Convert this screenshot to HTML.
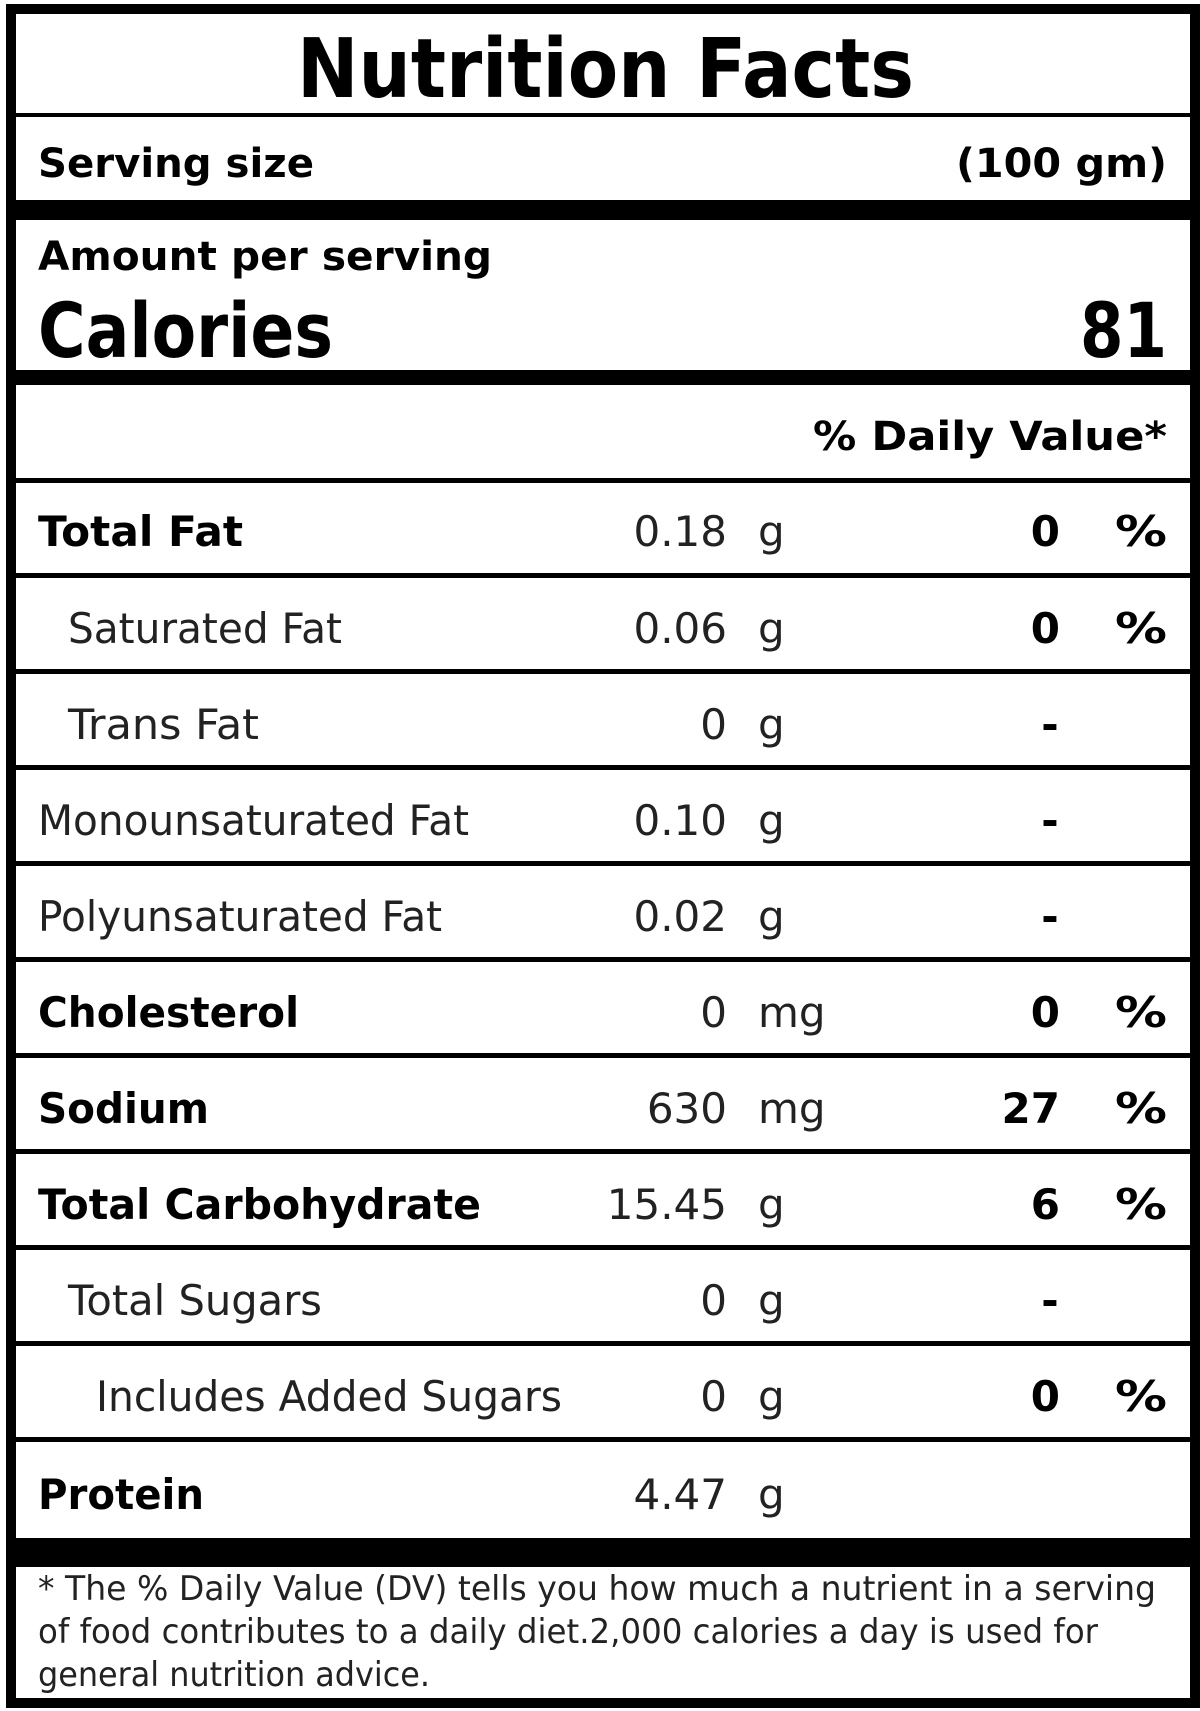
<!DOCTYPE html>
<html><head><meta charset="utf-8"><style>
html,body{margin:0;padding:0;background:#fff;}
svg{display:block;}
.b{font-family:"DejaVu Sans","Liberation Sans",sans-serif;font-weight:bold;fill:#000;}
.r{font-family:"DejaVu Sans","Liberation Sans",sans-serif;fill:#222;}
</style></head><body>
<svg width="1200" height="1711" viewBox="0 0 1200 1711" xmlns="http://www.w3.org/2000/svg">
<rect x="0" y="0" width="1200" height="1711" fill="#fff"/>
<!-- header -->
<text class="b" x="297" y="97" font-size="82" textLength="617" lengthAdjust="spacingAndGlyphs">Nutrition Facts</text>
<rect x="16" y="113" width="1174" height="4" fill="#000"/>
<text class="b" x="38" y="177" font-size="40" textLength="276" lengthAdjust="spacingAndGlyphs">Serving size</text>
<text class="b" x="956" y="177" font-size="40" textLength="211" lengthAdjust="spacingAndGlyphs">(100 gm)</text>
<rect x="16" y="200" width="1174" height="20" fill="#000"/>
<text class="b" x="38" y="270" font-size="40" textLength="454" lengthAdjust="spacingAndGlyphs">Amount per serving</text>
<text class="b" x="38" y="357" font-size="76" textLength="295" lengthAdjust="spacingAndGlyphs">Calories</text>
<text class="b" x="1080" y="357" font-size="76" textLength="87" lengthAdjust="spacingAndGlyphs">81</text>
<rect x="16" y="370" width="1174" height="15" fill="#000"/>
<text class="b" x="813" y="450" font-size="40" textLength="354" lengthAdjust="spacingAndGlyphs">% Daily Value*</text>

<!-- row lines -->
<g fill="#000">
<rect x="16" y="478" width="1174" height="5"/>
<rect x="16" y="573" width="1174" height="5"/>
<rect x="16" y="669" width="1174" height="5"/>
<rect x="16" y="765" width="1174" height="5"/>
<rect x="16" y="861" width="1174" height="5"/>
<rect x="16" y="957" width="1174" height="5"/>
<rect x="16" y="1053" width="1174" height="5"/>
<rect x="16" y="1149" width="1174" height="5"/>
<rect x="16" y="1245" width="1174" height="5"/>
<rect x="16" y="1341" width="1174" height="5"/>
<rect x="16" y="1437" width="1174" height="5"/>
<rect x="16" y="1538" width="1174" height="29"/>
</g>

<!-- rows -->
<g font-size="42">
<text class="b" x="38" y="546" textLength="205" lengthAdjust="spacingAndGlyphs">Total Fat</text>
<text class="r" x="727" y="546" text-anchor="end">0.18</text>
<text class="r" x="758" y="546">g</text>
<text class="b" x="1060" y="546" text-anchor="end">0</text>
<text class="b" x="1115" y="546" textLength="52" lengthAdjust="spacingAndGlyphs">%</text>

<text class="r" x="68" y="643" textLength="274" lengthAdjust="spacingAndGlyphs">Saturated Fat</text>
<text class="r" x="727" y="643" text-anchor="end">0.06</text>
<text class="r" x="758" y="643">g</text>
<text class="b" x="1060" y="643" text-anchor="end">0</text>
<text class="b" x="1115" y="643" textLength="52" lengthAdjust="spacingAndGlyphs">%</text>

<text class="r" x="68" y="739" textLength="191" lengthAdjust="spacingAndGlyphs">Trans Fat</text>
<text class="r" x="727" y="739" text-anchor="end">0</text>
<text class="r" x="758" y="739">g</text>
<text class="b" x="1050" y="739" text-anchor="middle">-</text>

<text class="r" x="38" y="835" textLength="431" lengthAdjust="spacingAndGlyphs">Monounsaturated Fat</text>
<text class="r" x="727" y="835" text-anchor="end">0.10</text>
<text class="r" x="758" y="835">g</text>
<text class="b" x="1050" y="835" text-anchor="middle">-</text>

<text class="r" x="38" y="931" textLength="404" lengthAdjust="spacingAndGlyphs">Polyunsaturated Fat</text>
<text class="r" x="727" y="931" text-anchor="end">0.02</text>
<text class="r" x="758" y="931">g</text>
<text class="b" x="1050" y="931" text-anchor="middle">-</text>

<text class="b" x="38" y="1027" textLength="261" lengthAdjust="spacingAndGlyphs">Cholesterol</text>
<text class="r" x="727" y="1027" text-anchor="end">0</text>
<text class="r" x="758" y="1027">mg</text>
<text class="b" x="1060" y="1027" text-anchor="end">0</text>
<text class="b" x="1115" y="1027" textLength="52" lengthAdjust="spacingAndGlyphs">%</text>

<text class="b" x="38" y="1123" textLength="171" lengthAdjust="spacingAndGlyphs">Sodium</text>
<text class="r" x="727" y="1123" text-anchor="end">630</text>
<text class="r" x="758" y="1123">mg</text>
<text class="b" x="1060" y="1123" text-anchor="end">27</text>
<text class="b" x="1115" y="1123" textLength="52" lengthAdjust="spacingAndGlyphs">%</text>

<text class="b" x="38" y="1219" textLength="443" lengthAdjust="spacingAndGlyphs">Total Carbohydrate</text>
<text class="r" x="727" y="1219" text-anchor="end">15.45</text>
<text class="r" x="758" y="1219">g</text>
<text class="b" x="1060" y="1219" text-anchor="end">6</text>
<text class="b" x="1115" y="1219" textLength="52" lengthAdjust="spacingAndGlyphs">%</text>

<text class="r" x="68" y="1315" textLength="254" lengthAdjust="spacingAndGlyphs">Total Sugars</text>
<text class="r" x="727" y="1315" text-anchor="end">0</text>
<text class="r" x="758" y="1315">g</text>
<text class="b" x="1050" y="1315" text-anchor="middle">-</text>

<text class="r" x="96" y="1411" textLength="466" lengthAdjust="spacingAndGlyphs">Includes Added Sugars</text>
<text class="r" x="727" y="1411" text-anchor="end">0</text>
<text class="r" x="758" y="1411">g</text>
<text class="b" x="1060" y="1411" text-anchor="end">0</text>
<text class="b" x="1115" y="1411" textLength="52" lengthAdjust="spacingAndGlyphs">%</text>

<text class="b" x="38" y="1509" textLength="166" lengthAdjust="spacingAndGlyphs">Protein</text>
<text class="r" x="727" y="1509" text-anchor="end">4.47</text>
<text class="r" x="758" y="1509">g</text>
</g>

<!-- footer -->
<g font-size="34">
<text class="r" x="38" y="1600" textLength="1118" lengthAdjust="spacingAndGlyphs">* The % Daily Value (DV) tells you how much a nutrient in a serving</text>
<text class="r" x="38" y="1643" textLength="1060" lengthAdjust="spacingAndGlyphs">of food contributes to a daily diet.2,000 calories a day is used for</text>
<text class="r" x="38" y="1686" textLength="392" lengthAdjust="spacingAndGlyphs">general nutrition advice.</text>
</g>

<!-- outer border -->
<rect x="6" y="4" width="1189" height="10" fill="#000"/>
<rect x="6" y="4" width="10" height="1703" fill="#000"/>
<rect x="1190" y="4" width="10" height="1703" fill="#000"/>
<rect x="6" y="1698" width="1194" height="10" fill="#000"/>
</svg>
</body></html>
